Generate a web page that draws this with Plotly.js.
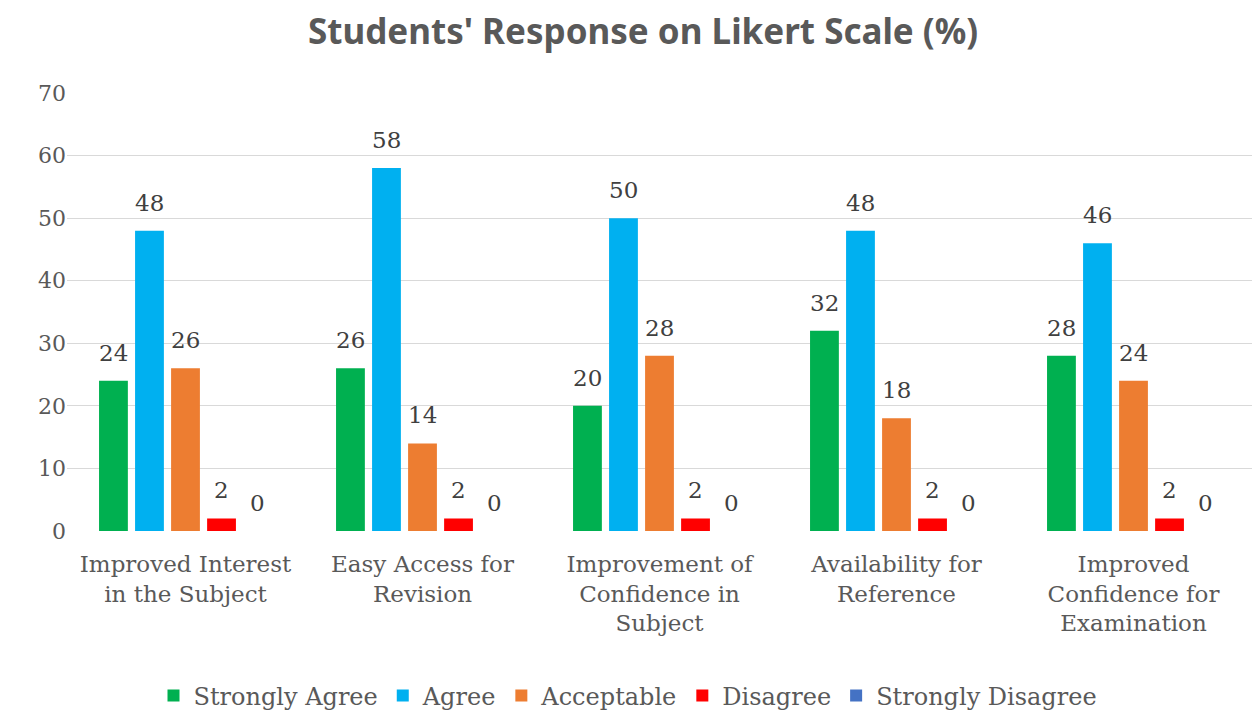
<!DOCTYPE html>
<html>
<head>
<meta charset="utf-8">
<script src="https://cdn.plot.ly/plotly-3.0.1.min.js"></script>
<style>html,body{margin:0;padding:0;background:#fff;}#chart{width:1256px;height:713px;}</style>
</head>
<body>
<div id="chart"></div>
<script>
const categories = ["Improved Interest in the Subject", "Easy Access for Revision", "Improvement of Confidence in Subject", "Availability for Reference", "Improved Confidence for Examination"];
const tickLabels = ["Improved Interest<br>in the Subject", "Easy Access for<br>Revision", "Improvement of<br>Confidence in<br>Subject", "Availability for<br>Reference", "Improved<br>Confidence for<br>Examination"];
const seriesNames = ["Strongly Agree", "Agree", "Acceptable", "Disagree", "Strongly Disagree"];
const stronglyAgree = [24, 26, 20, 32, 28];
const agree = [48, 58, 50, 48, 46];
const acceptable = [26, 14, 28, 18, 24];
const disagree = [2, 2, 2, 2, 2];
const stronglyDisagree = [0, 0, 0, 0, 0];
const yTicks = [0, 10, 20, 30, 40, 50, 60, 70];

const colors = ["#00B050", "#00B0F0", "#ED7D31", "#FF0000", "#4472C4"];
const allSeries = [stronglyAgree, agree, acceptable, disagree, stronglyDisagree];
const xIdx = categories.map((c, i) => i);
const serif = "DejaVu Serif, serif";
const bargap = 0.24;
const nSeries = allSeries.length;
const slot = (1 - bargap) / nSeries;

const traces = allSeries.map((vals, i) => ({
  type: "bar",
  name: seriesNames[i],
  x: xIdx,
  y: vals,
  marker: {color: colors[i]},
  hoverinfo: "name+y"
}));

const annotations = [];
allSeries.forEach((vals, i) => {
  vals.forEach((v, j) => {
    annotations.push({
      x: j + (i - (nSeries - 1) / 2) * slot,
      y: v,
      xref: "x", yref: "y",
      text: String(v),
      showarrow: false,
      yanchor: "bottom",
      yshift: 13,
      font: {family: serif, size: 23, color: "#404040"}
    });
  });
});

const layout = {
  width: 1256, height: 713,
  margin: {l: 67, r: 4, t: 93, b: 182},
  paper_bgcolor: "#fff", plot_bgcolor: "#fff",
  title: {
    text: "Students' Response on Likert Scale (%)",
    x: 0.512, xanchor: "center", y: 0.955, yanchor: "middle",
    font: {family: "Noto Sans, sans-serif", size: 35, weight: 700, color: "#595959"}
  },
  barmode: "group",
  bargap: bargap,
  bargroupgap: 0.2,
  xaxis: {
    tickvals: xIdx, ticktext: tickLabels,
    range: [-0.5, categories.length - 0.5],
    showgrid: false, zeroline: false, showline: false,
    ticks: "outside", ticklen: 12, tickcolor: "rgba(0,0,0,0)",
    tickfont: {family: serif, size: 23, color: "#595959"}
  },
  yaxis: {
    range: [0, 70], tickvals: yTicks,
    showgrid: true, gridcolor: "#D9D9D9", gridwidth: 1,
    zeroline: false, showline: false,
    ticks: "", 
    tickfont: {family: serif, size: 22, color: "#595959"}
  },
  showlegend: true,
  legend: {
    orientation: "h", x: 0.5, xanchor: "center", xref: "container",
    y: 0.024, yanchor: "middle", yref: "container",
    font: {family: serif, size: 24, color: "#595959"},
    itemwidth: 30, traceorder: "normal"
  },
  annotations: annotations
};

Plotly.newPlot("chart", traces, layout, {displayModeBar: false, responsive: false});
</script>
</body>
</html>
